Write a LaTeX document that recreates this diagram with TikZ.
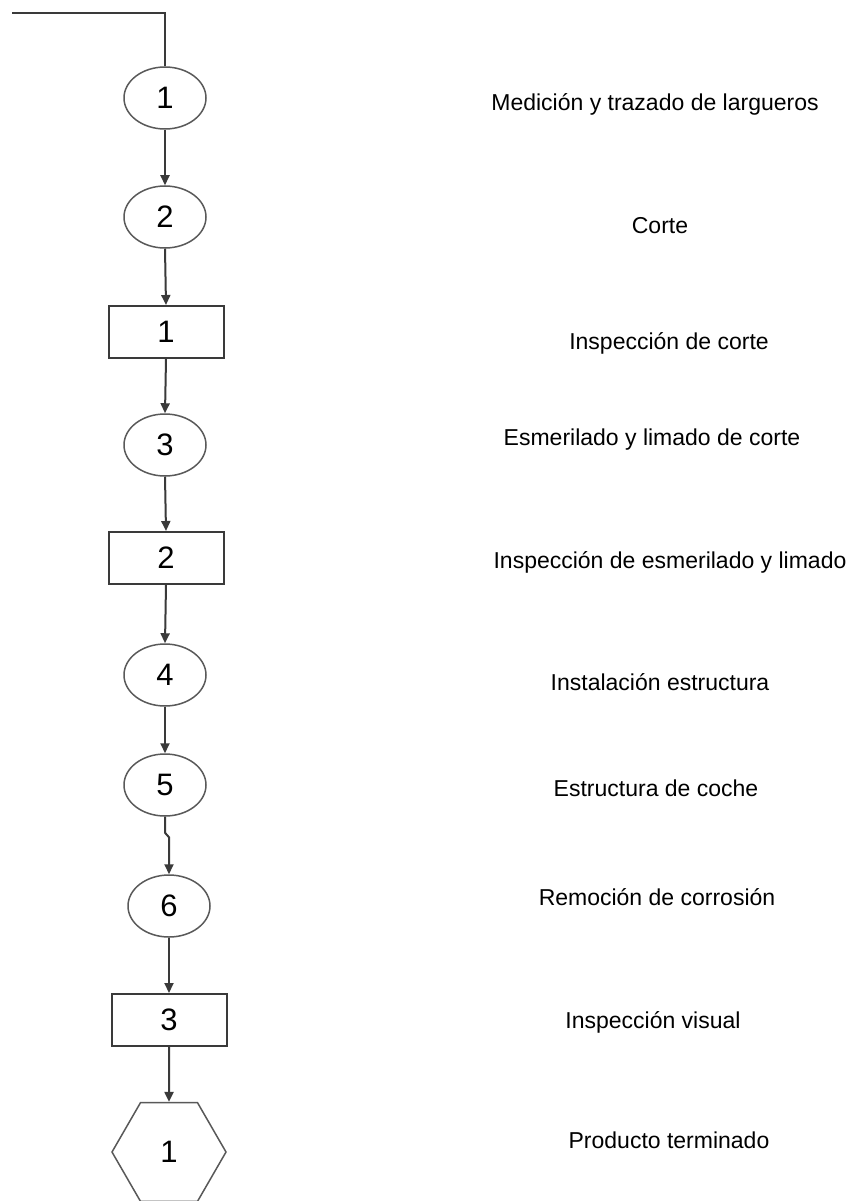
\documentclass[tikz,border=0pt]{standalone}
\usepackage{fontspec}
\setmainfont{Liberation Sans}
\usetikzlibrary{shapes.geometric,arrows.meta}
\definecolor{linegray}{HTML}{3A3A3A}
\definecolor{shapegray}{HTML}{595959}
\begin{document}
\begin{tikzpicture}[x=1pt,y=-1pt,
  proc/.style={ellipse,draw=shapegray,line width=1.5pt,minimum width=82pt,minimum height=62pt,inner sep=0pt,font=\fontsize{31}{32}\selectfont},
  insp/.style={rectangle,draw=linegray,line width=2pt,minimum width=115pt,minimum height=52pt,inner sep=0pt,font=\fontsize{31}{32}\selectfont},
  fin/.style={regular polygon,regular polygon sides=6,draw=shapegray,line width=1.5pt,minimum size=114pt,inner sep=0pt,font=\fontsize{31}{32}\selectfont},
  desc/.style={inner sep=0pt,font=\fontsize{23}{26}\selectfont},
  flow/.style={draw=linegray,line width=2pt,-{Triangle[length=10pt,width=9pt]}}]
\path[use as bounding box,fill=white] (0,0) rectangle (859,1201);

% symbols
\node[proc] (p1) at (165,98) {1};
\node[proc] (p2) at (165,217) {2};
\node[insp] (i1) at (166,332) {1};
\node[proc] (p3) at (165,445) {3};
\node[insp] (i2) at (166,558) {2};
\node[proc] (p4) at (165,675) {4};
\node[proc] (p5) at (165,785) {5};
\node[proc] (p6) at (169,906) {6};
\node[insp] (i3) at (169,1020) {3};
\node[fin] (end1) at (169,1152) {1};

% descriptions
\node[desc] (l1) at (655,104) {Medición y trazado de largueros};
\node[desc] (l2) at (660,226) {Corte};
\node[desc] (l3) at (669,343) {Inspección de corte};
\node[desc] (l4) at (652,440) {Esmerilado y limado de corte};
\node[desc] (l5) at (670,562) {Inspección de esmerilado y limado};
\node[desc] (l6) at (660,682) {Instalación estructura};
\node[desc] (l7) at (656,788) {Estructura de coche};
\node[desc] (l8) at (657,897) {Remoción de corrosión};
\node[desc] (l9) at (653,1022) {Inspección visual};
\node[desc] (l10) at (669,1140) {Producto terminado};

% connectors
\coordinate (start) at (12,13);
\draw[draw=linegray,line width=2pt] (start) -| (p1.north);
\foreach \a/\b in {p1/p2,p2/i1,i1/p3,p3/i2,i2/p4,p4/p5,p6/i3,i3/end1}
  \draw[flow] (\a.south) -- (\b.north);
\draw[flow] (p5.south) -- ++(0,16) -- ([yshift=37pt]p6.north) -- (p6.north);
\end{tikzpicture}
\end{document}
